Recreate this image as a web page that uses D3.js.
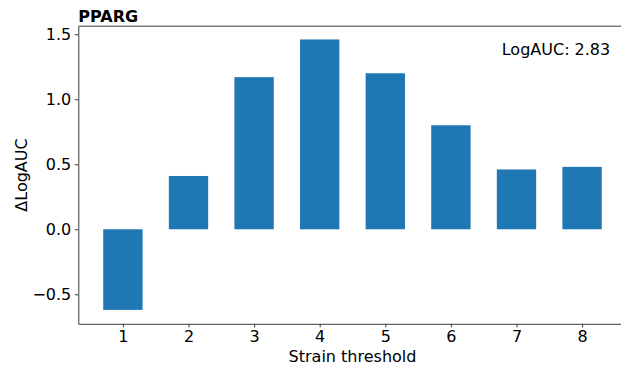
<!DOCTYPE html>
<html>
<head>
<meta charset="utf-8">
<script src="https://cdn.jsdelivr.net/npm/d3@7"></script>
<style>
  html, body { margin: 0; padding: 0; background: #fff; }
  svg { display: block; }
  text { font-family: "DejaVu Sans", sans-serif; fill: #000; }
</style>
</head>
<body>
<svg id="chart" width="621" height="369"></svg>
<script>
// Change in LogAUC per strain threshold
const thresholds = [1, 2, 3, 4, 5, 6, 7, 8];
const deltaLogAUC = [-0.62, 0.41, 1.17, 1.46, 1.20, 0.80, 0.46, 0.48];
const yTicks = [-0.5, 0.0, 0.5, 1.0, 1.5];
const titleText = "PPARG";
const noteText = "LogAUC: 2.83";
const xLabel = "Strain threshold";
const yLabel = "\u0394LogAUC";

const svg = d3.select("#chart");
const margin = { left: 78.3, top: 26.2, right: 626.7, bottom: 323.8 };
const barWidth = 0.6;

const x = d3.scaleLinear().domain([0.32, 8.68]).range([margin.left, margin.right]);
const y = d3.scaleLinear().domain([-0.727, 1.562]).range([margin.bottom, margin.top]);

const fontSize = 16;
const spineColor = "#3a3a3a";

// Bars
svg.append("g")
  .selectAll("rect")
  .data(thresholds.map((t, i) => ({ t, v: deltaLogAUC[i] })))
  .join("rect")
  .attr("x", d => x(d.t - barWidth / 2))
  .attr("width", d => x(d.t + barWidth / 2) - x(d.t - barWidth / 2))
  .attr("y", d => y(Math.max(0, d.v)))
  .attr("height", d => Math.abs(y(d.v) - y(0)))
  .attr("fill", "#1f77b4");

// X axis
const xAxis = svg.append("g")
  .attr("transform", `translate(0,${margin.bottom})`)
  .call(d3.axisBottom(x).tickValues(thresholds).tickFormat(d3.format("d")).tickSizeInner(3.5).tickSizeOuter(0).tickPadding(3.5));
xAxis.select(".domain").attr("stroke", spineColor).attr("stroke-width", 1);
xAxis.selectAll(".tick line").attr("stroke", spineColor);
xAxis.selectAll(".tick text").style("font-size", fontSize + "px").attr("fill", "#000");

// Y axis
const yAxis = svg.append("g")
  .attr("transform", `translate(${margin.left},0)`)
  .call(d3.axisLeft(y).tickValues(yTicks)
    .tickFormat(d => d3.format(".1f")(d).replace("-", "\u2212"))
    .tickSizeInner(3.5).tickSizeOuter(0).tickPadding(3.5));
yAxis.select(".domain").attr("stroke", spineColor).attr("stroke-width", 1);
yAxis.selectAll(".tick line").attr("stroke", spineColor);
yAxis.selectAll(".tick text").style("font-size", fontSize + "px").attr("fill", "#000");

// Top spine
svg.append("line")
  .attr("x1", margin.left).attr("x2", margin.right)
  .attr("y1", margin.top).attr("y2", margin.top)
  .attr("stroke", spineColor).attr("stroke-width", 1);

// Title
svg.append("text")
  .attr("x", margin.left)
  .attr("y", 21.5)
  .style("font-size", fontSize + "px")
  .style("font-weight", "bold")
  .text(titleText);

// Annotation in the upper right of the axes
svg.append("text")
  .attr("x", margin.left + 0.97 * (margin.right - margin.left))
  .attr("y", 55)
  .attr("text-anchor", "end")
  .style("font-size", fontSize + "px")
  .text(noteText);

// Axis labels
svg.append("text")
  .attr("x", (margin.left + margin.right) / 2)
  .attr("y", 361.5)
  .attr("text-anchor", "middle")
  .style("font-size", fontSize + "px")
  .text(xLabel);

svg.append("text")
  .attr("transform", `translate(26.5,${(margin.top + margin.bottom) / 2}) rotate(-90)`)
  .attr("text-anchor", "middle")
  .style("font-size", fontSize + "px")
  .text(yLabel);
</script>
</body>
</html>
